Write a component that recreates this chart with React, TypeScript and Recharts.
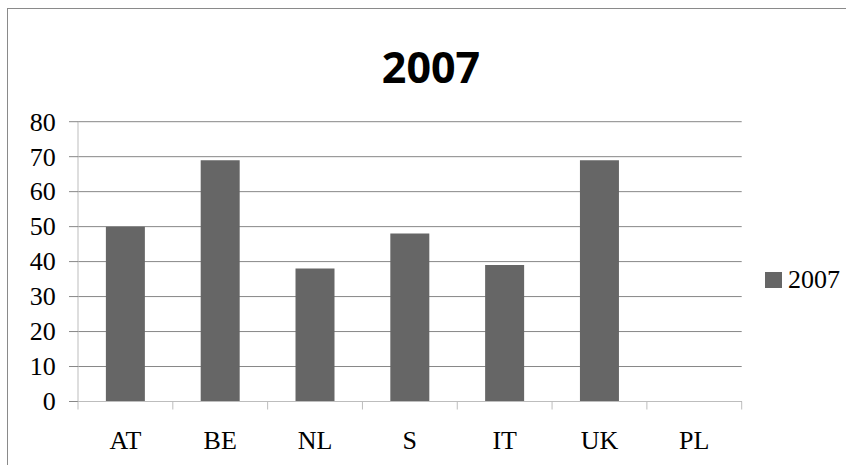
import React from 'react';
import { BarChart, Bar, XAxis, YAxis, CartesianGrid, Legend } from 'recharts';

const categories = ['AT', 'BE', 'NL', 'S', 'IT', 'UK', 'PL'];
const values2007 = [50, 69, 38, 48, 39, 69, 0];
const yTicks = [0, 10, 20, 30, 40, 50, 60, 70, 80];
const seriesName = '2007';
const chartTitle = '2007';

const data = categories.map((c, i) => ({ name: c, v2007: values2007[i] }));

const SERIF = '"Liberation Serif", "Times New Roman", Times, serif';
const GRID = '#878787';
const AXIS = '#bdbdbd';

const XTick = (props: any) => {
  const { x, y, payload, index } = props;
  const half = payload && typeof payload.offset === 'number' ? payload.offset : 0;
  const last = index === categories.length - 1;
  return (
    <g>
      <line x1={x - half} y1={y} x2={x - half} y2={y + 8} stroke={AXIS} strokeWidth={1} />
      {last && <line x1={x + half} y1={y} x2={x + half} y2={y + 8} stroke={AXIS} strokeWidth={1} />}
      <text x={x} y={y + 47.5} textAnchor="middle" fill="#000" style={{ fontSize: 26, fontFamily: SERIF }}>
        {payload.value}
      </text>
    </g>
  );
};

const YTick = (props: any) => {
  const { x, y, payload } = props;
  return (
    <text x={x} y={y} dy="0.34em" textAnchor="end" fill="#000" style={{ fontSize: 26, fontFamily: SERIF }}>
      {payload.value}
    </text>
  );
};

const LegendContent = (props: any) => {
  const { payload } = props;
  return (
    <div>
      {(payload || []).map((entry: any, i: number) => (
        <div key={i} style={{ display: 'flex', alignItems: 'center', height: 26 }}>
          <span style={{ display: 'inline-block', width: 17, height: 16, background: entry.color }} />
          <span style={{ marginLeft: 6, fontFamily: SERIF, fontSize: 26, lineHeight: '26px', color: '#000', whiteSpace: 'nowrap' }}>
            {entry.value}
          </span>
        </div>
      ))}
    </div>
  );
};

export default function App() {
  return (
    <div style={{ position: 'relative', width: 846, height: 465, overflow: 'hidden', background: '#fff' }}>
      <style>{'body{margin:0;overflow:hidden;background:#fff}'}</style>
      <div
        style={{
          position: 'absolute',
          left: 7,
          top: 8,
          width: 1000,
          height: 1000,
          borderLeft: '1px solid #8a8a8a',
          borderTop: '1px solid #8a8a8a',
          boxSizing: 'border-box',
        }}
      />
      <div style={{ position: 'absolute', left: 0, top: 0 }}>
        <BarChart
          width={846}
          height={465}
          data={data}
          margin={{ top: 121.7, right: 104.3, bottom: 13.5, left: 0 }}
          barCategoryGap="29.4%"
        >
          <CartesianGrid vertical={false} stroke={GRID} strokeWidth={1} />
          <XAxis
            dataKey="name"
            height={50}
            tickSize={0}
            tickMargin={0}
            tickLine={false}
            axisLine={{ stroke: AXIS, strokeWidth: 1 }}
            tick={<XTick />}
            interval={0}
          />
          <YAxis
            width={78}
            domain={[0, 80]}
            ticks={yTicks}
            tickSize={9}
            tickMargin={13.3}
            tickLine={{ stroke: GRID, strokeWidth: 1 }}
            axisLine={{ stroke: AXIS, strokeWidth: 1 }}
            tick={<YTick />}
            interval={0}
          />
          <Legend
            layout="horizontal"
            align="center"
            verticalAlign="middle"
            wrapperStyle={{ left: 765, top: 266.5, width: 90 }}
            content={<LegendContent />}
          />
          <Bar dataKey="v2007" name={seriesName} fill="#666666" isAnimationActive={false} />
        </BarChart>
      </div>
      <svg width={846} height={465} style={{ position: 'absolute', left: 0, top: 0, pointerEvents: 'none' }}>
        <text x={431} y={83.3} textAnchor="middle" fontFamily='"Open Sans", sans-serif' fontWeight={700} fontSize={43} fill="#000">
          {chartTitle}
        </text>
      </svg>
    </div>
  );
}
